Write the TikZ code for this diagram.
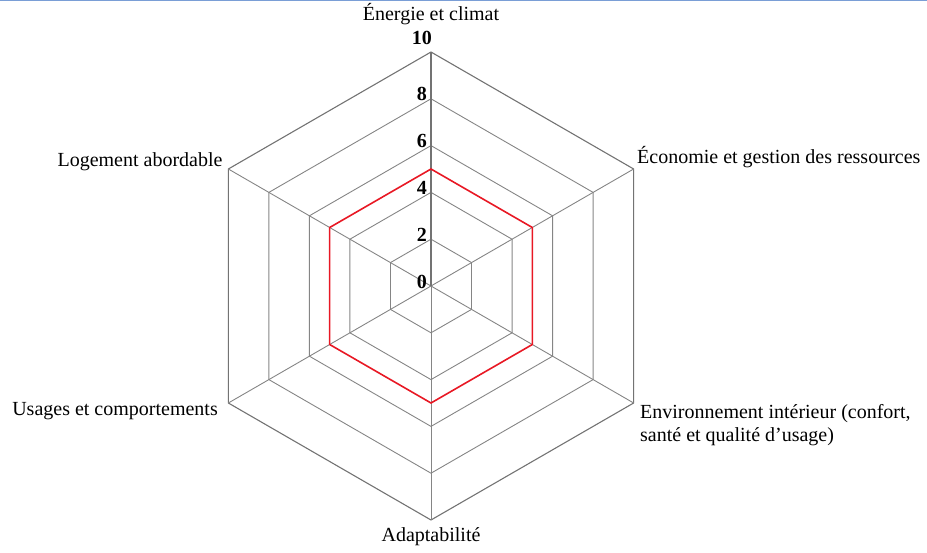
\documentclass[tikz,border=0pt]{standalone}
\usepackage{fontspec}
\setmainfont{Liberation Serif}
\definecolor{filet}{RGB}{122,158,214}
\definecolor{serie}{RGB}{232,24,36}
\begin{document}
\begin{tikzpicture}[x=1pt,y=1pt,font=\fontsize{20}{23.5}\selectfont,
  grille/.style={draw=black!48,line width=0.9pt},
  axe/.style={draw=black!55,line width=1.2pt},
  valeur/.style={font=\fontsize{20}{22}\selectfont\bfseries,inner sep=0pt},
  titre/.style={inner sep=0pt}]
\useasboundingbox (-431,-266) rectangle (496,286);
\draw[filet,line width=1.5pt] (-431,285.4)--(496,285.4);
\coordinate (O) at (0,0);
\foreach \k in {1,...,4}
  \draw[grille] (90:\k*46.8)--(30:\k*46.8)--(-30:\k*46.8)--(-90:\k*46.8)--(-150:\k*46.8)--(150:\k*46.8)--cycle;
\draw[grille,draw=black!55,line width=1.1pt] (90:234)--(30:234)--(-30:234)--(-90:234)--(-150:234)--(150:234)--cycle;
\foreach \a in {30,-30,-90,-150,150}
  \draw[grille] (O)--(\a:234);
\draw[axe] (O)--(90:234);
\draw[serie,line width=1.6pt] (90:117)--(30:117)--(-30:117)--(-90:117)--(-150:117)--(150:117)--cycle;
\foreach \v in {0,2,4,6,8}
  \node[valeur,anchor=base east] (n\v) at (-4,\v*23.4-2) {\v};
\node[valeur,anchor=base east] (n10) at (1,241) {10};
\node[titre,anchor=base] (energie) at (0,265) {Énergie et climat};
\node[titre,anchor=base west] (economie) at (206,122.7) {Économie et gestion des ressources};
\node[titre,anchor=north west,align=left] (environnement) at (209,-118) {Environnement intérieur (confort,\\santé et qualité d’usage)};
\node[titre,anchor=base] (adaptabilite) at (0,-255.7) {Adaptabilité};
\node[titre,anchor=base east] (usages) at (-213,-129) {Usages et comportements};
\node[titre,anchor=base east] (logement) at (-208.3,120) {Logement abordable};
\end{tikzpicture}
\end{document}
